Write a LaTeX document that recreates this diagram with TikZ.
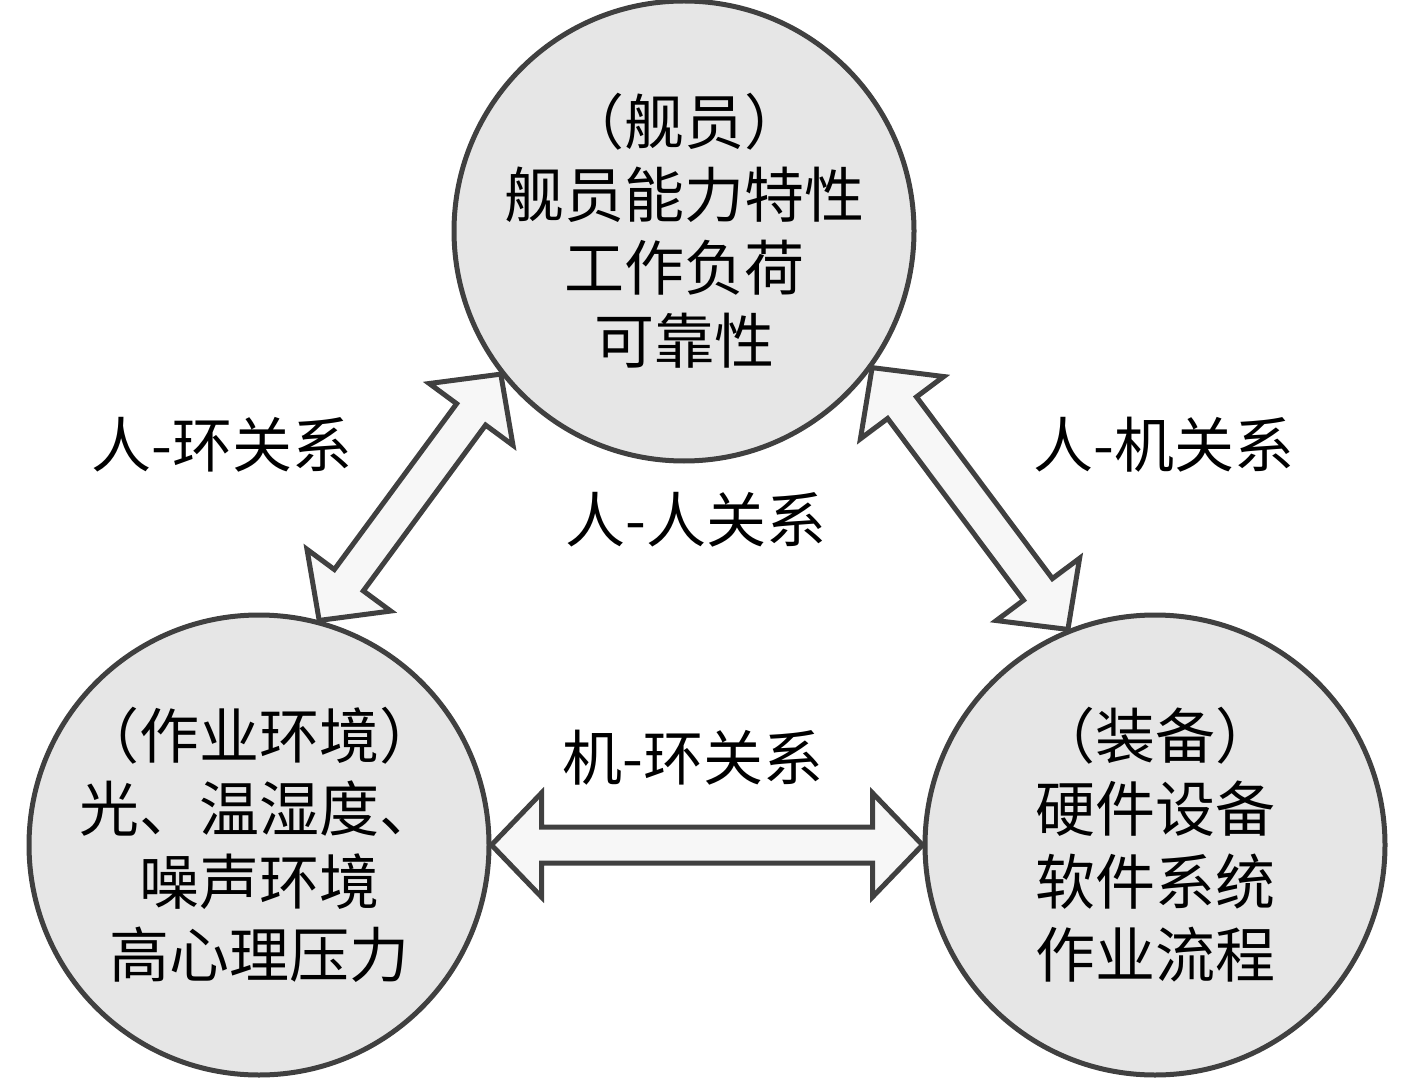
\documentclass[tikz,border=0pt]{standalone}
\usepackage{fontspec}
\setmainfont{Noto Sans CJK SC}
\usepackage{tikz}
\usetikzlibrary{calc}
\definecolor{edgegray}{HTML}{404040}
\definecolor{ballgray}{HTML}{E6E6E6}
\newcommand{\cnfont}{\fontsize{30pt}{36.5pt}\selectfont}
\tikzset{
  ball/.style={circle, draw=edgegray, fill=ballgray, line width=2.5pt,
    minimum size=230pt, inner sep=0pt, align=center, font=\cnfont},
  relarrow/.style={draw=edgegray, fill=gray!6, line width=2.5pt, line join=miter},
  rellabel/.style={font=\cnfont, inner sep=0pt}
}
% block arrow with a head at both ends, tip to tip
\newcommand{\dblblock}[2]{%
  \draw[relarrow] (#1)
    -- ($(#1)!25pt!(#2)!26pt!90:(#2)$)
    -- ($(#1)!25pt!(#2)!9pt!90:(#2)$)
    -- ($(#2)!25pt!(#1)!9pt!-90:(#1)$)
    -- ($(#2)!25pt!(#1)!26pt!-90:(#1)$)
    -- (#2)
    -- ($(#2)!25pt!(#1)!26pt!90:(#1)$)
    -- ($(#2)!25pt!(#1)!9pt!90:(#1)$)
    -- ($(#1)!25pt!(#2)!9pt!-90:(#2)$)
    -- ($(#1)!25pt!(#2)!26pt!-90:(#2)$)
    -- cycle;}

\begin{document}
\begin{tikzpicture}[x=0.5pt, y=-0.5pt]
  \useasboundingbox (0,0) rectangle (1417,1090);

  \node[ball] at (684,231) (crew)
  {（舰员）\\舰员能力特性\\工作负荷\\可靠性};
  \node[ball] at (259,845) (env)
  {（作业环境）\\光、温湿度、\\噪声环境\\高心理压力};
  \node[ball] at (1155,845) (equip)
  {（装备）\\硬件设备\\软件系统\\作业流程};

  \dblblock{crew.218}{env.75}
  \dblblock{crew.324}{equip.112}
  \dblblock{env.0}{equip.180}

  \node[rellabel] at (222,445) (humenv) {人-环关系};
  \node[rellabel] at (1164,445) (hummach) {人-机关系};
  \node[rellabel] at (696,520) (humhum) {人-人关系};
  \node[rellabel] at (693,758) (machenv) {机-环关系};
\end{tikzpicture}
\end{document}
